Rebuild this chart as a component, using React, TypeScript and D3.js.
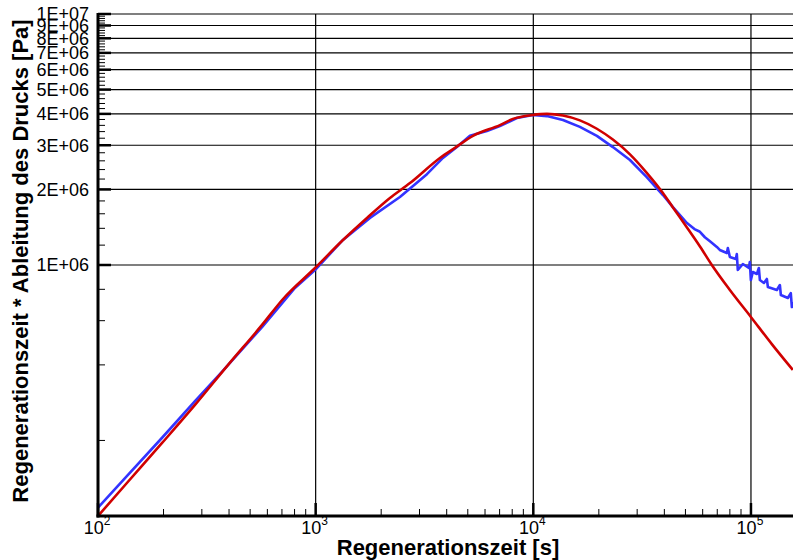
import React from "react";
import * as d3 from "d3";

// ---- data ----
const X_MAJOR = [1e2, 1e3, 1e4, 1e5];
const X_EXP = ["2", "3", "4", "5"];
const Y_MAJOR = [1e6, 2e6, 3e6, 4e6, 5e6, 6e6, 7e6, 8e6, 9e6, 1e7];
const Y_LABELS = ["1E+06", "2E+06", "3E+06", "4E+06", "5E+06", "6E+06", "7E+06", "8E+06", "9E+06", "1E+07"];
const X_TITLE = "Regenerationszeit [s]";
const Y_TITLE = "Regenerationszeit * Ableitung des Drucks [Pa]";

const blueT = [
  100, 137, 197, 279, 371, 567, 803, 993, 1335, 1776, 2439, 3245, 3844, 4457, 5115, 6121, 7024, 8408,
  9957, 11550, 13680, 16370, 19590, 23200, 27800, 33200, 39400, 43800, 50800, 55000, 58000, 61400,
  65000, 69700, 71900, 77500, 78300, 80000, 85200, 86100, 87000, 91800, 97800, 98800, 99900, 102000,
  106500, 108700, 109900, 114700, 118300, 119600, 131500, 135800, 137200, 147700, 152400, 154100, 156000,
];
const blueV = [
  1.08e5, 1.456e5, 2.05e5, 2.87e5, 3.75e5, 5.66e5, 8.1e5, 9.55e5, 1.258e6, 1.54e6, 1.866e6, 2.3e6, 2.67e6,
  2.95e6, 3.27e6, 3.42e6, 3.58e6, 3.85e6, 3.96e6, 3.92e6, 3.78e6, 3.55e6, 3.27e6, 2.95e6, 2.62e6, 2.24e6,
  1.9e6, 1.7e6, 1.47e6, 1.39e6, 1.36e6, 1.29e6, 1.24e6, 1.18e6, 1.148e6, 1.116e6, 1.169e6, 1.076e6,
  1.057e6, 1.106e6, 0.955e6, 1.009e6, 0.973e6, 1.028e6, 0.871e6, 0.938e6, 0.921e6, 0.973e6, 0.871e6,
  0.848e6, 0.88e6, 0.817e6, 0.795e6, 0.832e6, 0.759e6, 0.739e6, 0.773e6, 0.68e6, 0.712e6,
];

const redT = [
  100, 137, 197, 279, 396, 567, 708, 993, 1335, 1721, 2194, 2712, 3724, 4365, 5280, 7024, 8057, 9957,
  11550, 13680, 16370, 19590, 23200, 27800, 33200, 39400, 43800, 50800, 58300, 66100, 80000, 99900,
  124700, 155700,
];
const redV = [
  1.0e5, 1.366e5, 1.954e5, 2.77e5, 4.0e5, 5.77e5, 7.32e5, 9.73e5, 1.258e6, 1.54e6, 1.85e6, 2.12e6,
  2.67e6, 2.93e6, 3.27e6, 3.61e6, 3.82e6, 3.96e6, 4.0e6, 3.94e6, 3.77e6, 3.49e6, 3.16e6, 2.76e6, 2.33e6,
  1.936e6, 1.695e6, 1.411e6, 1.185e6, 1.0e6, 7.95e5, 6.21e5, 4.84e5, 3.82e5,
];

const W = 793;
const H = 560;
const FONT = "'Liberation Sans', Arial, Helvetica, sans-serif";

export default function App() {
  const left = 98, right = 793, top = 14, bottom = 516;
  const x = d3.scaleLog().domain([100, 1.56e5]).range([left, right]);
  const y = d3.scaleLog().domain([1e5, 1e7]).range([bottom, top]);

  const xMinor: number[] = [];
  for (const d of [1e2, 1e3, 1e4]) for (let k = 2; k <= 9; k++) xMinor.push(d * k);
  const yMinor: number[] = [];
  for (let k = 2; k <= 8; k += 2) yMinor.push(k * 1e5);
  for (let v = 1.2e6; v < 9.99e6; v += 2e5) {
    const r = Math.round(v / 1e5);
    if (r % 10 !== 0) yMinor.push(r * 1e5);
  }

  const line = d3
    .line<[number, number]>()
    .x((d) => x(d[0]))
    .y((d) => y(d[1]));
  const smooth = d3
    .line<[number, number]>()
    .x((d) => x(d[0]))
    .y((d) => y(d[1]))
    .curve(d3.curveMonotoneX);

  const blue = blueT.map((t, i) => [t, blueV[i]] as [number, number]);
  const red = redT.map((t, i) => [t, redV[i]] as [number, number]);

  return (
    <div style={{ position: "absolute", left: 0, top: 0 }}>
      <svg width={W} height={H} style={{ display: "block", background: "#fff" }} fontFamily={FONT}>
        <defs>
          <clipPath id="plot">
            <rect x={left} y={top - 2} width={right - left} height={bottom - top + 2} />
          </clipPath>
        </defs>
        {/* grid */}
        {Y_MAJOR.map((v) => (
          <line key={"gy" + v} x1={left} x2={right} y1={y(v)} y2={y(v)} stroke="#000" strokeWidth={1.2} />
        ))}
        {X_MAJOR.slice(1).map((v) => (
          <line key={"gx" + v} x1={x(v)} x2={x(v)} y1={top} y2={bottom} stroke="#000" strokeWidth={1.2} />
        ))}
        {/* curves */}
        <g clipPath="url(#plot)">
          <path d={line(blue) || ""} fill="none" stroke="#3333ff" strokeWidth={2.6} strokeLinejoin="round" />
          <path d={smooth(red) || ""} fill="none" stroke="#d00000" strokeWidth={2.6} strokeLinejoin="round" />
        </g>
        {/* ticks */}
        {yMinor.map((v) => (
          <line key={"ym" + v} x1={left} x2={left + 7} y1={y(v)} y2={y(v)} stroke="#000" strokeWidth={1} />
        ))}
        {Y_MAJOR.map((v) => (
          <line key={"yM" + v} x1={left} x2={left + 13} y1={y(v)} y2={y(v)} stroke="#000" strokeWidth={2.5} />
        ))}
        {xMinor.map((v) => (
          <line key={"xm" + v} x1={x(v)} x2={x(v)} y1={bottom} y2={bottom - 7} stroke="#000" strokeWidth={1} />
        ))}
        {X_MAJOR.map((v) => (
          <line key={"xM" + v} x1={x(v)} x2={x(v)} y1={bottom} y2={bottom - 13} stroke="#000" strokeWidth={2.5} />
        ))}
        {/* axes */}
        <line x1={left} x2={left} y1={top - 1} y2={bottom + 1.5} stroke="#000" strokeWidth={3} />
        <line x1={left - 1.5} x2={right} y1={bottom} y2={bottom} stroke="#000" strokeWidth={3} />
        {/* y labels */}
        {Y_MAJOR.map((v, i) => (
          <text key={"yl" + v} x={89} y={y(v)} dy="0.36em" textAnchor="end" fontSize={18} fill="#000">
            {Y_LABELS[i]}
          </text>
        ))}
        {/* x labels */}
        {X_MAJOR.map((v, i) => (
          <text key={"xl" + v} x={x(v) - 1} y={534} textAnchor="middle" fontSize={18} fill="#000">
            10
            <tspan dy={-9} fontSize={12}>
              {X_EXP[i]}
            </tspan>
          </text>
        ))}
        {/* titles */}
        <text x={448} y={555} textAnchor="middle" fontSize={22} fontWeight="bold" fill="#000">
          {X_TITLE}
        </text>
        <text
          transform={`translate(28, 261) rotate(-90)`}
          textAnchor="middle"
          fontSize={22}
          fontWeight="bold"
          fill="#000"
        >
          {Y_TITLE}
        </text>
      </svg>
    </div>
  );
}
